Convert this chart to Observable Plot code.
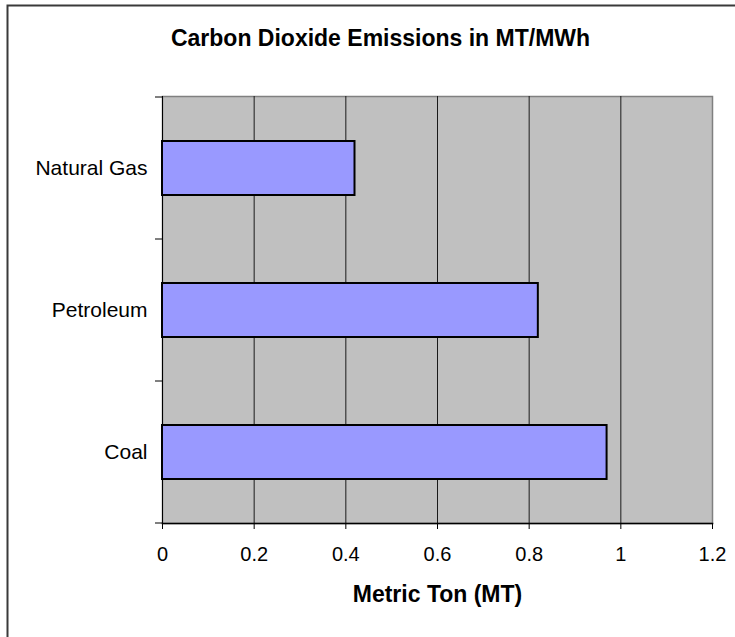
<!DOCTYPE html>
<html>
<head>
<meta charset="utf-8">
<script src="https://cdn.jsdelivr.net/npm/d3@7"></script>
<script src="https://cdn.jsdelivr.net/npm/@observablehq/plot@0.6"></script>
<style>
  html, body { margin: 0; padding: 0; background: #fff; }
  #chart { width: 735px; height: 637px; overflow: hidden; }
</style>
</head>
<body>
<div id="chart"></div>
<script>
// ---- data ----
const categories = ["Natural Gas", "Petroleum", "Coal"];
const values = [0.42, 0.82, 0.97];
const xTicks = [0, 0.2, 0.4, 0.6, 0.8, 1, 1.2];
const titleText = "Carbon Dioxide Emissions in MT/MWh";
const xLabel = "Metric Ton (MT)";

const data = categories.map((c, i) => ({category: c, value: values[i]}));
const font = "Arial, 'Liberation Sans', sans-serif";

const chart = Plot.plot({
  width: 735,
  height: 637,
  marginLeft: 162,
  marginRight: 23,
  marginTop: 96,
  marginBottom: 114,
  style: {fontFamily: font, background: "#ffffff", color: "#000"},
  x: {domain: [0, 1.2]},
  y: {domain: categories, paddingInner: 0.62, paddingOuter: 0.31, align: 0.5},
  marks: [
    Plot.frame({fill: "#c0c0c0", stroke: "#808080", strokeWidth: 1.5}),
    Plot.ruleX(xTicks.filter(t => t > 0 && t < 1.2), {stroke: "#1a1a1a", strokeWidth: 1}),
    Plot.barX(data, {x: "value", y: "category", fill: "#9999ff", stroke: "#000", strokeWidth: 2}),
    Plot.frame({anchor: "left", stroke: "#000", strokeWidth: 1}),
    Plot.frame({anchor: "bottom", stroke: "#000", strokeWidth: 1.5}),
    Plot.axisX({
      ticks: xTicks, tickSize: 6, tickPadding: 17, fontSize: 20,
      tickFormat: d => String(+d.toFixed(1)), label: null, stroke: "#000"
    }),
    Plot.axisY({tickSize: 0, tickPadding: 15, fontSize: 21, label: null}),
    Plot.text([titleText], {
      frameAnchor: "top", dx: -57, dy: -57.5, lineAnchor: "middle",
      fontSize: 23, fontWeight: "bold", fill: "#000"
    }),
    Plot.text([xLabel], {
      frameAnchor: "bottom", dy: 71, lineAnchor: "middle",
      fontSize: 23, fontWeight: "bold", fill: "#000", style: "letter-spacing:0.3px"
    })
  ]
});

document.getElementById("chart").appendChild(chart);

// boundary ticks on the category axis, derived from the band scale
const ys = chart.scale("y");
const step = ys.step ?? ys.bandwidth / (1 - 0.62);
const svg = d3.select(chart.tagName.toLowerCase() === "svg" ? chart : chart.querySelector("svg"));
const bounds = [];
categories.forEach((c, i) => {
  const center = ys.apply(c) + ys.bandwidth / 2;
  if (i === 0) bounds.push(center - step / 2);
  bounds.push(center + step / 2);
});
const g = svg.append("g").attr("stroke", "#000").attr("stroke-width", 1);
bounds.forEach(b => {
  g.append("line").attr("x1", 155).attr("x2", 162).attr("y1", b).attr("y2", b);
});

// outer chart-area border (extends past the right and bottom edges)
svg.insert("rect", ":first-child")
  .attr("x", 7.5).attr("y", 5.5).attr("width", 800).attr("height", 700)
  .attr("fill", "#fff").attr("stroke", "#3a3a3a").attr("stroke-width", 2);
</script>
</body>
</html>
